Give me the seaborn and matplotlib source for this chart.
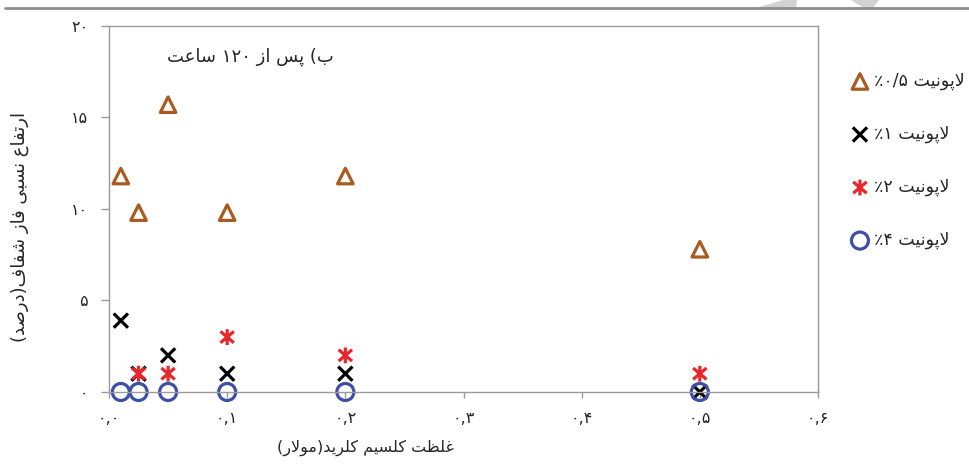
import re
import numpy as np
import seaborn as sns
import matplotlib
matplotlib.use("Agg")
import matplotlib.pyplot as plt
from matplotlib.path import Path
from matplotlib.patches import Polygon
from matplotlib.lines import Line2D

# ---- data -------------------------------------------------------------
conc = [0.01, 0.025, 0.05, 0.1, 0.2, 0.5]           # CaCl2 concentration (M)
lap_05 = [11.8, 9.8, 15.7, 9.8, 11.8, 7.8]           # laponite 0.5 %
lap_1 = [3.9, 1.0, 2.0, 1.0, 1.0, 0.0]               # laponite 1 %
lap_2 = [np.nan, 1.0, 1.0, 3.0, 2.0, 1.0]            # laponite 2 %
lap_4 = [0.0, 0.0, 0.0, 0.0, 0.0, 0.0]               # laponite 4 %

series_labels = ["لاپونیت ٪۰/۵", "لاپونیت ٪۱", "لاپونیت ٪۲", "لاپونیت ٪۴"]
x_ticks = [0.0, 0.1, 0.2, 0.3, 0.4, 0.5, 0.6]
x_ticklabels = ["۰,۰", "۰,۱", "۰,۲", "۰,۳", "۰,۴", "۰,۵", "۰,۶"]
y_ticks = [0, 5, 10, 15, 20]
y_ticklabels = ["۰", "۵", "۱۰", "۱۵", "۲۰"]
title_text = "ب) پس از ۱۲۰ ساعت"
x_label = "غلظت کلسیم کلرید(مولار)"
y_label = "ارتفاع نسبی فاز شفاف(درصد)"

# ---- Persian shaping (matplotlib has no complex text layout) ----------
FORMS = {  # isolated, final, initial, medial
    "ب": "\uFE8F\uFE90\uFE91\uFE92",
    "پ": "\uFB56\uFB57\uFB58\uFB59",
    "ت": "\uFE95\uFE96\uFE97\uFE98",
    "س": "\uFEB1\uFEB2\uFEB3\uFEB4",
    "ش": "\uFEB5\uFEB6\uFEB7\uFEB8",
    "ص": "\uFEB9\uFEBA\uFEBB\uFEBC",
    "ظ": "\uFEC5\uFEC6\uFEC7\uFEC8",
    "ع": "\uFEC9\uFECA\uFECB\uFECC",
    "غ": "\uFECD\uFECE\uFECF\uFED0",
    "ف": "\uFED1\uFED2\uFED3\uFED4",
    "ک": "\uFB8E\uFB8F\uFB90\uFB91",
    "ل": "\uFEDD\uFEDE\uFEDF\uFEE0",
    "م": "\uFEE1\uFEE2\uFEE3\uFEE4",
    "ن": "\uFEE5\uFEE6\uFEE7\uFEE8",
    "ی": "\uFBFC\uFBFD\uFBFE\uFBFF",
    "ا": "\uFE8D\uFE8E\uFE8D\uFE8E",
    "د": "\uFEA9\uFEAA\uFEA9\uFEAA",
    "ر": "\uFEAD\uFEAE\uFEAD\uFEAE",
    "ز": "\uFEAF\uFEB0\uFEAF\uFEB0",
    "و": "\uFEED\uFEEE\uFEED\uFEEE",
}
RIGHT_ONLY = set("ادرزو")
LAM_ALEF = ("\uFEFB", "\uFEFC")


def shape(text):
    out = []
    i, n = 0, len(text)
    while i < n:
        c = text[i]
        if c not in FORMS:
            out.append(c)
            i += 1
            continue
        prev = text[i - 1] if i > 0 else ""
        link_prev = prev in FORMS and prev not in RIGHT_ONLY
        if c == "ل" and i + 1 < n and text[i + 1] == "ا":
            out.append(LAM_ALEF[1 if link_prev else 0])
            i += 2
            continue
        nxt = text[i + 1] if i + 1 < n else ""
        link_next = c not in RIGHT_ONLY and nxt in FORMS
        idx = (3 if link_next else 1) if link_prev else (2 if link_next else 0)
        out.append(FORMS[c][idx])
        i += 1
    return "".join(out)


def visual(text):
    tokens = re.findall(r"[۰-۹0-9٪%/,.]+|.", shape(text))
    mirror = {"(": ")", ")": "("}
    return "".join(mirror.get(t, t) for t in reversed(tokens))


# ---- figure -----------------------------------------------------------
sns.set_style("white")
plt.rcParams["font.family"] = ["DejaVu Sans"]

fig = plt.figure(figsize=(9.7, 4.69), dpi=100)
ax = fig.add_axes([0.1124, 0.1642, 0.7309, 0.7804])

asterisk = Path(
    [(0, -1), (0, 1), (-0.85, -0.72), (0.85, 0.72), (-0.85, 0.72), (0.85, -0.72)],
    [Path.MOVETO, Path.LINETO] * 3,
)

styles = [
    (lap_05, "^", "#A95B22", 125),
    (lap_1, "x", "#000000", 105),
    (lap_2, asterisk, "#E8262B", 130),
    (lap_4, "o", "#3E50A6", 150),
]

for (values, marker, color, size), label in zip(styles, series_labels):
    sns.scatterplot(x=conc, y=values, marker=marker, s=size, ax=ax,
                    label=visual(label), legend=False)
    coll = ax.collections[-1]
    coll.set_facecolor("none")
    coll.set_edgecolor(color)
    coll.set_linewidth(2.3)
    coll.set_clip_on(False)

ax.set_xlim(0, 0.6)
ax.set_ylim(0, 20)
ax.set_xticks(x_ticks)
ax.set_xticklabels(x_ticklabels)
ax.set_yticks(y_ticks)
ax.set_yticklabels(y_ticklabels)
ax.set_xlabel("")
ax.set_ylabel("")

for sp in ax.spines.values():
    sp.set_visible(True)
    sp.set_color("#9A9A9A")
    sp.set_linewidth(1.0)

ax.tick_params(axis="y", direction="out", length=6, width=1, color="#9A9A9A",
               pad=9, labelsize=11.5, left=True)
ax.tick_params(axis="x", direction="out", length=4, width=1, color="#9A9A9A",
               pad=10, labelsize=11.5, bottom=True)

ax.text(0.2, 0.915, visual(title_text), transform=ax.transAxes,
        ha="center", va="center", fontsize=13)
fig.text(20 / 970, 1 - 227 / 469, visual(y_label), rotation=90,
         ha="center", va="center", fontsize=13)
fig.text(365 / 970, 1 - 448 / 469, visual(x_label),
         ha="center", va="center", fontsize=11.5)

ax.legend(loc="upper left", bbox_to_anchor=(853 / 970, 1 - 72 / 469),
          bbox_transform=fig.transFigure, frameon=False, borderpad=0,
          borderaxespad=0, handlelength=0.8, handletextpad=0.4,
          labelspacing=2.0, fontsize=12.5, scatterpoints=1, markerscale=1.0)

# page rule and partial watermark at the top edge
fig.add_artist(Polygon([(756 / 970, 1 - 8 / 469), (783 / 970, 1.0),
                        (797 / 970, 1.0), (796 / 970, 1 - 8 / 469)],
                       closed=True, transform=fig.transFigure,
                       facecolor="#D2D2D2", edgecolor="none"))
fig.add_artist(Polygon([(851 / 970, 1.0), (879 / 970, 1.0),
                        (873 / 970, 1 - 8 / 469), (864 / 970, 1 - 8 / 469)],
                       closed=True, transform=fig.transFigure,
                       facecolor="#D2D2D2", edgecolor="none"))
fig.add_artist(Line2D([5 / 970, 1.0], [1 - 8.5 / 469] * 2,
                      transform=fig.transFigure, color="#8C8C8C", lw=2))

fig.savefig("out.png", dpi=100)
